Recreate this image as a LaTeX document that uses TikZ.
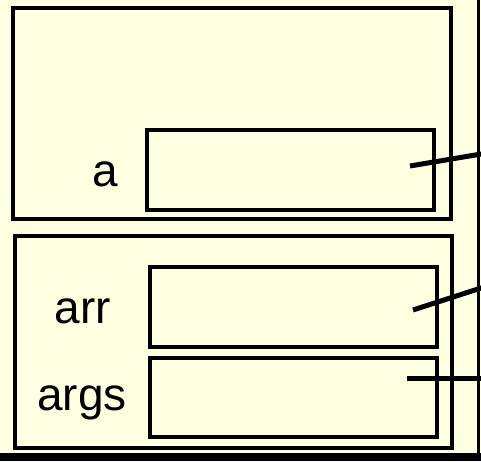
\documentclass[tikz,border=0pt]{standalone}
\usepackage{fontspec}
\setmainfont{Liberation Sans}
\definecolor{bgyellow}{RGB}{255,255,226}
\begin{document}
\begin{tikzpicture}[x=1pt,y=-1pt,
  frame/.style={draw=black,line width=4pt,rectangle,inner sep=0pt,outer sep=0pt},
  lbl/.style={anchor=base,inner sep=0pt,font=\fontsize{46}{50}\selectfont},
  link/.style={draw=black,line width=5pt}]
\fill[bgyellow] (0,0) rectangle (481,461);
\useasboundingbox (0,0) rectangle (481,461);
% outer frame pieces
\fill[black] (0,452.5) rectangle (481,461);
\fill[black] (477.3,0) rectangle (480,461);
% boxes
\node[frame,minimum width=437.5pt,minimum height=211pt] (top) at (231.75,113.5) {};
\node[frame,minimum width=287pt,minimum height=80.5pt] (ba) at (290.5,169.75) {};
\node[frame,minimum width=437pt,minimum height=212pt] (bot) at (233.5,342) {};
\node[frame,minimum width=287pt,minimum height=80pt] (barr) at (293.5,307) {};
\node[frame,minimum width=287pt,minimum height=79pt] (bargs) at (293.5,397.5) {};
% labels
\node[lbl] (la) at (105,186) {a};
\node[lbl] (larr) at (83,323) {arr};
\node[lbl] (largs) at (82,410) {args};
% connector ends
\coordinate (sa) at (410,166);
\coordinate (ea) at (486,153.2);
\coordinate (sarr) at (413,310);
\coordinate (earr) at (486,286.4);
\coordinate (sargs) at (407,378);
\coordinate (eargs) at (486,378);
\draw[link] (sa) -- (ea);
\draw[link] (sarr) -- (earr);
\draw[link] (sargs) -- (eargs);
\end{tikzpicture}
\end{document}
